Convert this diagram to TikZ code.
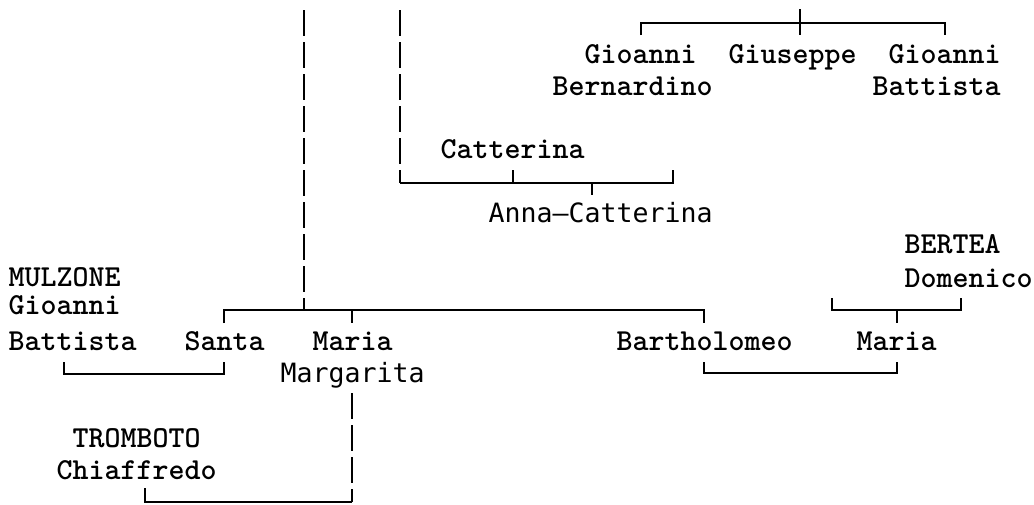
\documentclass[tikz,border=0pt]{standalone}
\usepackage{fontspec}
\newfontfamily\sansmono{DejaVu Sans Mono}
\newfontfamily\sermono{lmmonolt10-bold.otf}
\begin{document}
\begin{tikzpicture}[x=0.75pt,y=-0.75pt,line width=1.05pt,
  ser/.style={anchor=base west,inner sep=0pt,font=\sermono\fontsize{22.86pt}{27pt}\selectfont},
  san/.style={anchor=base west,inner sep=0pt,font=\sansmono\fontsize{19.93pt}{24pt}\selectfont},
  vdash/.style={dash pattern=on 19.5pt off 4.5pt},
  link/.style={line cap=butt}]
\useasboundingbox (0,0) rectangle (1034,504);
% people
\node[ser] (gb1) at (584,63) {Gioanni};
\node[ser] (gb2) at (552,95) {Bernardino};
\node[ser] (gius) at (728,63) {Giuseppe};
\node[ser] (gba1) at (888,63) {Gioanni};
\node[ser] (gba2) at (872,95) {Battista};
\node[ser] (catt) at (440,158) {Catterina};
\node[san] (anna) at (488,222) {Anna—Catterina};
\node[ser] (bertea) at (904,253) {BERTEA};
\node[ser] (dom) at (904,287) {Domenico};
\node[ser] (mulz) at (8,286) {MULZONE};
\node[ser] (mgio) at (8,314) {Gioanni};
\node[ser] (mbat) at (8,350) {Battista};
\node[ser] (santa) at (184,350) {Santa};
\node[ser] (maria) at (312,350) {Maria};
\node[san] (marg) at (280,382) {Margarita};
\node[ser] (bart) at (616,350) {Bartholomeo};
\node[ser] (maria2) at (856,350) {Maria};
\node[ser] (tromb) at (72,447) {TROMBOTO};
\node[ser] (chiaf) at (56,479) {Chiaffredo};
% junction coordinates
\coordinate (v1top) at (304,10);
\coordinate (v1bot) at (304,310);
\coordinate (v2top) at (400,10);
\coordinate (v2bot) at (400,183);
\coordinate (catR) at (673,183);
\coordinate (catRt) at (673,170);
\coordinate (catM) at (513,183);
\coordinate (catMt) at (513,170);
\coordinate (annaJ) at (592,183);
\coordinate (annaT) at (592,195);
\coordinate (topL) at (641,23);
\coordinate (topLd) at (641,35);
\coordinate (topR) at (945,23);
\coordinate (topRd) at (945,35);
\coordinate (topMu) at (800,9);
\coordinate (topMd) at (800,35);
\coordinate (mainL) at (224,310);
\coordinate (mainLd) at (224,323);
\coordinate (mainM) at (352,310);
\coordinate (mainMd) at (352,323);
\coordinate (mainR) at (704,310);
\coordinate (mainRd) at (704,323);
\coordinate (berL) at (832,310);
\coordinate (berLu) at (832,298);
\coordinate (berR) at (961,310);
\coordinate (berRu) at (961,298);
\coordinate (berM) at (897,310);
\coordinate (berMd) at (897,323);
\coordinate (bmL) at (704,373);
\coordinate (bmLu) at (704,362);
\coordinate (bmR) at (897,373);
\coordinate (bmRu) at (897,362);
\coordinate (bsL) at (64,374);
\coordinate (bsLu) at (64,362);
\coordinate (bsR) at (224,374);
\coordinate (bsRu) at (224,362);
\coordinate (mgTop) at (352,393);
\coordinate (mgBot) at (352,502);
\coordinate (trL) at (145,502);
\coordinate (trLu) at (145,488);
% connectors
\draw[vdash] (v1top) -- (v1bot);
\draw[vdash] (v2top) -- (v2bot);
\draw[link] (v2bot) -- (catR) -- (catRt);
\draw[link] (catM) -- (catMt);
\draw[link] (annaJ) -- (annaT);
\draw[link] (topLd) -- (topL) -- (topR) -- (topRd);
\draw[link] (topMu) -- (topMd);
\draw[link] (mainLd) -- (mainL) -- (mainR) -- (mainRd);
\draw[link] (mainM) -- (mainMd);
\draw[link] (berLu) -- (berL) -- (berR) -- (berRu);
\draw[link] (berM) -- (berMd);
\draw[link] (bmLu) -- (bmL) -- (bmR) -- (bmRu);
\draw[link] (bsLu) -- (bsL) -- (bsR) -- (bsRu);
\draw[vdash] (mgTop) -- (mgBot);
\draw[link] (mgBot) -- (trL) -- (trLu);
\end{tikzpicture}
\end{document}
